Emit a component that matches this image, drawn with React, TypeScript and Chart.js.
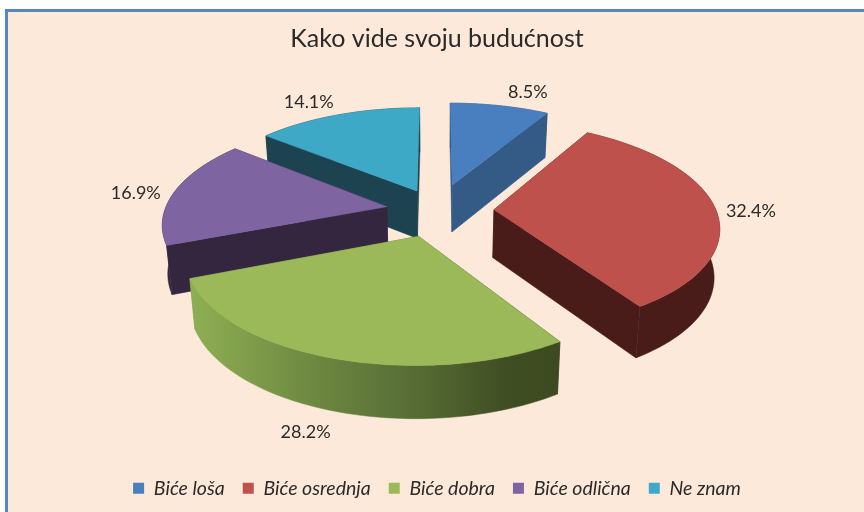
import React, { useEffect, useRef } from "react";
import { Chart, registerables } from "chart.js";

Chart.register(...registerables);

const titleText = "Kako vide svoju budućnost";
const categories = ["Biće loša", "Biće osrednja", "Biće dobra", "Biće odlična", "Ne znam"];
const values = [8.5, 32.4, 28.2, 16.9, 14.1];
const topColors = ["#4a7fbf", "#bf514d", "#9bb959", "#7f64a2", "#3ea9c6"];
const wallColors = ["#345b86", "#4a1c19", "", "#35263f", "#1e4350"];
const explode = [60, 57, 58, 51, 48];
const labelNudgeX = [28, 36, -27, -39, -29];
const labelNudgeY = [-14, 4, 74, 2, -13];
const paintOrder = [0, 4, 3, 1, 2];

const PERSP = 0.15;
const SQUASH = 0.455;
const DEPTH = 48;
const LIFT = 52;
const TEXT = "#2b2a29";
const FONT = "Lato";

function project(cx: number, cy: number, R: number, u: number, v: number) {
  const s = 1 / (1 - (PERSP * v) / R);
  return { x: cx + u * s, y: cy - LIFT + v * SQUASH * s, s };
}

const pie3d = {
  id: "pie3d",
  beforeDatasetDraw(chart: any) {
    const ctx: CanvasRenderingContext2D = chart.ctx;
    const arcs = chart.getDatasetMeta(0).data;
    paintOrder.forEach((i) => {
      const el = arcs[i];
      const R = el.outerRadius;
      const off = el.options.offset;
      const mid = (el.startAngle + el.endAngle) / 2;
      const ox = off * Math.cos(mid);
      const oy = off * Math.sin(mid);
      const top = (a: number, r: number) => project(el.x, el.y, R, ox + r * Math.cos(a), oy + r * Math.sin(a));
      const low = (p: { x: number; y: number; s: number }) => ({
        x: el.x + (p.x - el.x) * 0.98,
        y: p.y + DEPTH * Math.sqrt(p.s),
      });
      const apex = top(mid, 0);
      const n = 80;
      const rim: { x: number; y: number; s: number }[] = [];
      for (let k = 0; k <= n; k++) {
        rim.push(top(el.startAngle + ((el.endAngle - el.startAngle) * k) / n, R));
      }
      const fillPoly = (pts: { x: number; y: number }[], color: any) => {
        ctx.beginPath();
        pts.forEach((p, j) => (j ? ctx.lineTo(p.x, p.y) : ctx.moveTo(p.x, p.y)));
        ctx.closePath();
        ctx.fillStyle = color;
        ctx.strokeStyle = color;
        ctx.lineWidth = 0.5;
        ctx.fill();
        ctx.stroke();
      };
      let wall: any = wallColors[i];
      if (!wall) {
        const g = ctx.createLinearGradient(196, 0, 561, 0);
        g.addColorStop(0, "#8dad52");
        g.addColorStop(0.3, "#708b42");
        g.addColorStop(0.6, "#566c35");
        g.addColorStop(0.85, "#3f4e22");
        g.addColorStop(1, "#3d4a21");
        wall = g;
      }
      const first = rim[0];
      const last = rim[n];
      fillPoly([apex, first, low(first), low(apex)], wall);
      fillPoly([apex, last, low(last), low(apex)], wall);
      fillPoly([...rim, ...rim.map(low).reverse()], wall);
      fillPoly([apex, ...rim], el.options.backgroundColor);
    });
    return false;
  },
  afterDatasetsDraw(chart: any) {
    const ctx: CanvasRenderingContext2D = chart.ctx;
    const arcs = chart.getDatasetMeta(0).data;
    ctx.save();
    ctx.font = `18px ${FONT}`;
    ctx.fillStyle = TEXT;
    ctx.textAlign = "center";
    ctx.textBaseline = "middle";
    arcs.forEach((el: any, i: number) => {
      const mid = (el.startAngle + el.endAngle) / 2;
      const r = el.outerRadius + el.options.offset;
      const p = project(el.x, el.y, el.outerRadius, r * Math.cos(mid), r * Math.sin(mid));
      ctx.fillText(`${values[i].toFixed(1)}%`, p.x + labelNudgeX[i], p.y + labelNudgeY[i]);
    });
    ctx.restore();
  },
};

export default function App() {
  const ref = useRef<HTMLCanvasElement>(null);
  useEffect(() => {
    const chart = new Chart(ref.current as HTMLCanvasElement, {
      type: "pie",
      data: {
        labels: categories,
        datasets: [
          {
            data: values,
            backgroundColor: topColors,
            borderWidth: 0,
            offset: explode,
          },
        ],
      },
      options: {
        responsive: false,
        animation: false,
        radius: 222,
        layout: { padding: { left: 10, right: 0, top: 0, bottom: 4 } },
        events: [],
        plugins: {
          tooltip: { enabled: false },
          title: {
            display: true,
            text: titleText,
            color: TEXT,
            font: { family: FONT, size: 25, weight: "normal" },
            padding: { top: 24, bottom: 10 },
          },
          legend: {
            position: "bottom",
            labels: {
              color: TEXT,
              boxWidth: 11,
              boxHeight: 11,
              padding: 18,
              font: { family: FONT, size: 19.5, style: "italic" },
            },
          },
        },
      },
      plugins: [pie3d],
    } as any);
    return () => chart.destroy();
  }, []);
  return (
    <div style={{ position: "fixed", left: 0, top: 0, width: 864, height: 512, background: "#fff", overflow: "hidden" }}>
      <div
        style={{
          position: "absolute",
          left: 5,
          top: 9,
          width: 900,
          height: 540,
          background: "#fde9da",
          borderTop: "3px solid #5585c2",
          borderLeft: "3px solid #5585c2",
        }}
      />
      <canvas ref={ref} width={864} height={512} style={{ position: "absolute", left: 0, top: 0 }} />
    </div>
  );
}
